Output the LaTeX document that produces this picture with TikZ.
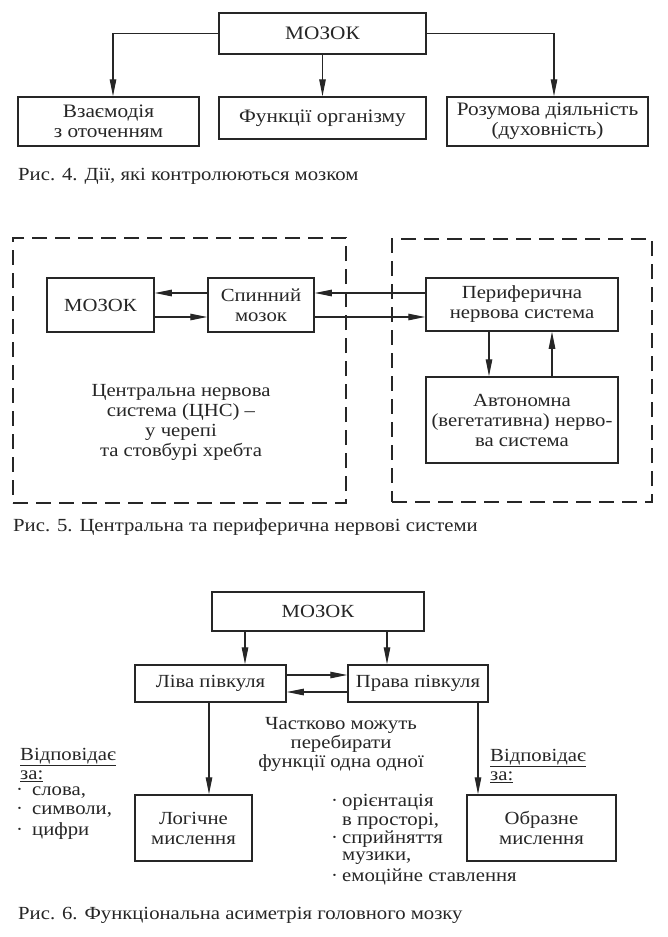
\documentclass[tikz,border=0pt]{standalone}
\usepackage{fontspec}
\setmainfont{Liberation Serif}[FakeStretch=1.12]
\usetikzlibrary{arrows.meta,calc}
\newcommand\fst{\fontsize{19}{20}\selectfont}
\newcommand\fs{\fontsize{18.5}{20}\selectfont}
\newcommand\fsl{\fontsize{18.5}{19}\selectfont}
\begin{document}
\begin{tikzpicture}[x=1pt,y=-1pt,
  every node/.style={text=black!85},
  box/.style={draw=black!85, line width=1.5pt, inner sep=0pt, align=center, font=\fs},
  dbox/.style={draw=black!85, line width=1.5pt, dash pattern=on 15pt off 8pt, inner sep=0pt},
  arr/.style={draw=black!85, line width=1.1pt, -{Triangle[length=17pt,width=6.5pt]}},
  captx/.style={font=\fs, anchor=west, inner sep=0pt},
  txt/.style={font=\fs, align=center, inner sep=0pt}]
\useasboundingbox (0,0) rectangle (668,937);
\fill[white] (0,0) rectangle (668,937);

% ---------- Fig 4 ----------
\node[box, font=\fst, minimum width=207, minimum height=41] (mz1) at (322.5,33.5) {МОЗОК};
\node[box, font=\fst, minimum width=181, minimum height=49] (b1) at (108.5,121.5) {Взаємодія\\з оточенням};
\node[box, font=\fst, minimum width=207, minimum height=42] (b2) at (322.5,118) {Функції організму};
\node[box, font=\fst, minimum width=201, minimum height=49] (b3) at (547.5,121.5) {Розумова діяльність\\(духовність)};
\draw[arr] (mz1.west) -| ([xshift=4.5pt]b1.north);
\draw[arr] (mz1.south) -- (b2.north);
\draw[arr] (mz1.east) -| ([xshift=6.5pt]b3.north);
\node[captx] (c4) at (18,176) {Рис. 4. Дії, які контролюються мозком};

% ---------- Fig 5 ----------
\node[dbox, minimum width=333, minimum height=265] (cns) at (179.5,370.5) {};
\node[dbox, minimum width=260, minimum height=263] (pns) at (522,370.5) {};
\node[box, minimum width=107, minimum height=54] (mz2) at (100.5,305) {МОЗОК};
\node[box, minimum width=106, minimum height=54] (sp) at (261,305) {Спинний\\мозок};
\node[box, minimum width=192, minimum height=53] (per) at (522,304.5) {Периферична\\нервова система};
\node[box, minimum width=192, minimum height=86] (avt) at (522,420) {Автономна\\(вегетативна) нерво-\\ва система};
\draw[arr] ([yshift=12pt]sp.west) -- ([yshift=12pt]mz2.east);
\draw[arr] ([yshift=-12pt]mz2.east) -- ([yshift=-12pt]sp.west);
\draw[arr] ([yshift=11.5pt]per.west) -- ([yshift=12pt]sp.east);
\draw[arr] ([yshift=-12pt]sp.east) -- ([yshift=-12.5pt]per.west);
\draw[arr] ([xshift=-33pt]per.south) -- ([xshift=-33pt]avt.north);
\draw[arr] ([xshift=30pt]avt.north) -- ([xshift=30pt]per.south);
\node[txt] (cnst) at (181,422.5) {Центральна нервова\\система (ЦНС) –\\у черепі\\та стовбурі хребта};
\node[captx] (c5) at (13,527) {Рис. 5. Центральна та периферична нервові системи};

% ---------- Fig 6 ----------
\node[box, minimum width=212, minimum height=39] (mz3) at (318,611.5) {МОЗОК};
\node[box, minimum width=151, minimum height=37] (lh) at (210.5,683.5) {Ліва півкуля};
\node[box, minimum width=140, minimum height=37] (rh) at (418,683.5) {Права півкуля};
\node[box, minimum width=117, minimum height=66] (lg) at (193.5,828) {Логічне\\мислення};
\node[box, minimum width=149, minimum height=66] (ob) at (541.5,828) {Образне\\мислення};
\draw[arr] ([xshift=-73pt]mz3.south) -- ([xshift=-73pt]mz3.south |- lh.north);
\draw[arr] ([xshift=69pt]mz3.south) -- ([xshift=69pt]mz3.south |- rh.north);
\draw[arr] ([yshift=8.5pt]lh.east) -- ([yshift=8.5pt]rh.west);
\draw[arr] ([yshift=-8.5pt]rh.west) -- ([yshift=-8.5pt]lh.east);
\draw[arr] ([xshift=-1.5pt]lh.south) -- ([xshift=-1.5pt]lh.south |- lg.north);
\draw[arr] ([xshift=60pt]rh.south) -- ([xshift=60pt]rh.south |- ob.north);
\node[txt, font=\fsl] (part) at (341,744) {Частково можуть\\перебирати\\функції одна одної};
\node[captx] (lv1) at (20,757) {\underline{Відповідає}};
\node[captx] (lv2) at (20,776) {\underline{за:}};
\node[captx] (l1) at (16,793) {\makebox[16pt][l]{·}слова,};
\node[captx] (l2) at (16,812) {\makebox[16pt][l]{·}символи,};
\node[captx] (l3) at (16,831) {\makebox[16pt][l]{·}цифри};
\node[captx] (rv1) at (490,758) {\underline{Відповідає}};
\node[captx] (rv2) at (490,777) {\underline{за:}};
\node[captx] (r1) at (331,802) {\makebox[11pt][l]{·}орієнтація};
\node[captx] (r2) at (342,821) {в просторі,};
\node[captx] (r3) at (331,839) {\makebox[11pt][l]{·}сприйняття};
\node[captx] (r4) at (342,858) {музики,};
\node[captx] (r5) at (331,877) {\makebox[11pt][l]{·}емоційне ставлення};
\node[captx] (c6) at (18,915) {Рис. 6. Функціональна асиметрія головного мозку};
\end{tikzpicture}
\end{document}
